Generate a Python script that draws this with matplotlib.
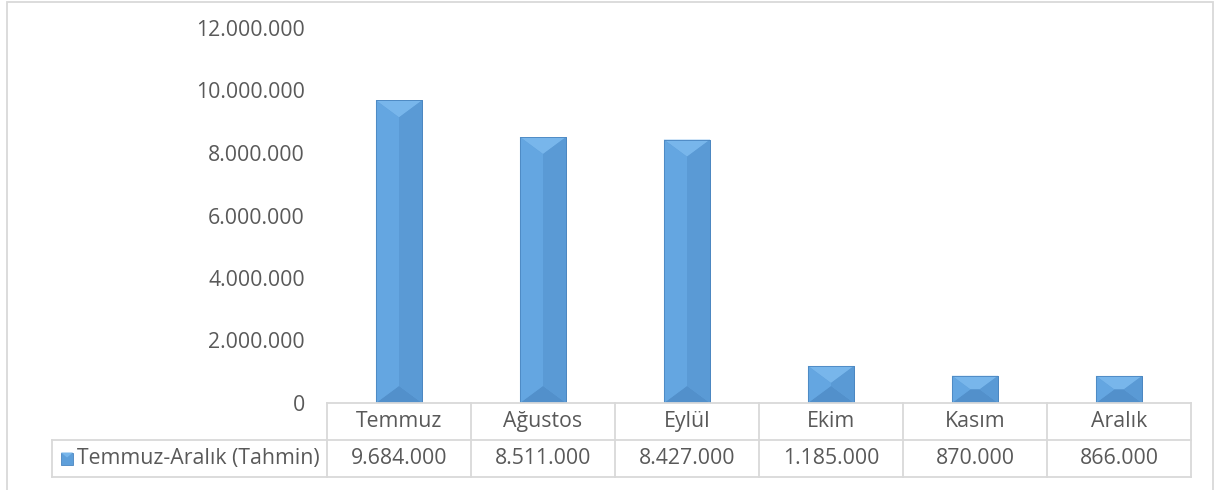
import matplotlib.pyplot as plt
from matplotlib.patches import Polygon, Rectangle
from matplotlib.lines import Line2D
from matplotlib.ticker import FuncFormatter, MultipleLocator

months = ['Temmuz', 'Ağustos', 'Eylül', 'Ekim', 'Kasım', 'Aralık']
values = [9684000, 8511000, 8427000, 1185000, 870000, 866000]
series_name = 'Temmuz-Aralık (Tahmin)'

plt.rcParams['font.family'] = ['Open Sans', 'DejaVu Sans']
txt_col = '#595959'
grid_col = '#D9D9D9'
fs = 15.3

W, H = 1218, 490
fig = plt.figure(figsize=(W / 100, H / 100), dpi=100)


def fx(x):
    return x / W


def fy(y):
    return 1 - y / H


def dots(v, pos=None):
    return f'{int(round(v)):,}'.replace(',', '.')


# plot area
left, right, top, base = 327, 1191, 28, 403
ax = fig.add_axes([fx(left), fy(base), fx(right) - fx(left), fy(top) - fy(base)])
ax.set_xlim(-0.5, len(months) - 0.5)
ax.set_ylim(0, 12000000)
ax.yaxis.set_major_locator(MultipleLocator(2000000))
ax.yaxis.set_major_formatter(FuncFormatter(dots))
ax.set_xticks([])
ax.tick_params(axis='y', length=0, pad=16, labelsize=fs, labelcolor=txt_col)
for s in ax.spines.values():
    s.set_visible(False)

# bars with a hip-roof bevel
bw = 0.32
upx = len(months) / (right - left)       # x units per pixel
upy = 12000000 / (base - top)            # y units per pixel
pos = list(range(len(months)))
ax.bar(pos, values, width=bw, color='#5E9FDA', edgecolor='#4A86C0', linewidth=0.6, zorder=2)
for i, v in zip(pos, values):
    x0, x1 = i - bw / 2, i + bw / 2
    w_px = bw / upx
    h_px = v / upy
    d_px = min(0.74 * w_px / 2, h_px / 2)
    b = d_px / 0.74 * upx
    d = d_px * upy
    faces = [
        ([(x0, v), (x1, v), (x1 - b, v - d), (x0 + b, v - d)], '#78B6EB'),
        ([(x0, 0), (x1, 0), (x1 - b, d), (x0 + b, d)], '#5290CB'),
        ([(x0, 0), (x0, v), (x0 + b, v - d), (x0 + b, d)], '#64A6E1'),
        ([(x1, 0), (x1, v), (x1 - b, v - d), (x1 - b, d)], '#5A9AD5'),
    ]
    for pts, c in faces:
        ax.add_patch(Polygon(pts, closed=True, facecolor=c, edgecolor='none', zorder=3))
    ax.add_patch(Rectangle((x0, 0), bw, v, fill=False, edgecolor='#4A86C0', linewidth=0.6, zorder=4))

# data table
row1, row2, row3 = 403, 440, 477
key_left = 52
colw = (right - left) / len(months)


def hline(y, xa, xb):
    fig.add_artist(Line2D([fx(xa), fx(xb)], [fy(y), fy(y)], color=grid_col, lw=1.3))


def vline(x, ya, yb):
    fig.add_artist(Line2D([fx(x), fx(x)], [fy(ya), fy(yb)], color=grid_col, lw=1.3))


hline(row1, left, right)
hline(row2, key_left, right)
hline(row3, key_left, right)
vline(key_left, row2, row3)
for k in range(len(months) + 1):
    vline(left + k * colw, row1, row3)

for k, (m, v) in enumerate(zip(months, values)):
    cx = left + (k + 0.5) * colw
    fig.text(fx(cx), fy((row1 + row2) / 2), m, ha='center', va='center', fontsize=fs, color=txt_col)
    fig.text(fx(cx), fy((row2 + row3) / 2), dots(v), ha='center', va='center', fontsize=fs, color=txt_col)

# legend key
ky = (row2 + row3) / 2
fig.add_artist(Rectangle((fx(61), fy(ky + 6)), fx(12), 12 / H, facecolor='#5E9FDA',
                         edgecolor='#4A86C0', lw=0.6, transform=fig.transFigure))
fig.add_artist(Polygon([(fx(61), fy(ky - 6)), (fx(73), fy(ky - 6)), (fx(67), fy(ky - 1))],
                       closed=True, facecolor='#78B6EB', edgecolor='none', transform=fig.transFigure))
fig.text(fx(77), fy(ky), series_name, ha='left', va='center', fontsize=fs, color=txt_col)

# chart border
fig.add_artist(Rectangle((fx(7), fy(495)), fx(1213) - fx(7), (495 - 2) / H, fill=False,
                         edgecolor=grid_col, lw=1.3, transform=fig.transFigure))

fig.savefig('out.png', dpi=100)
